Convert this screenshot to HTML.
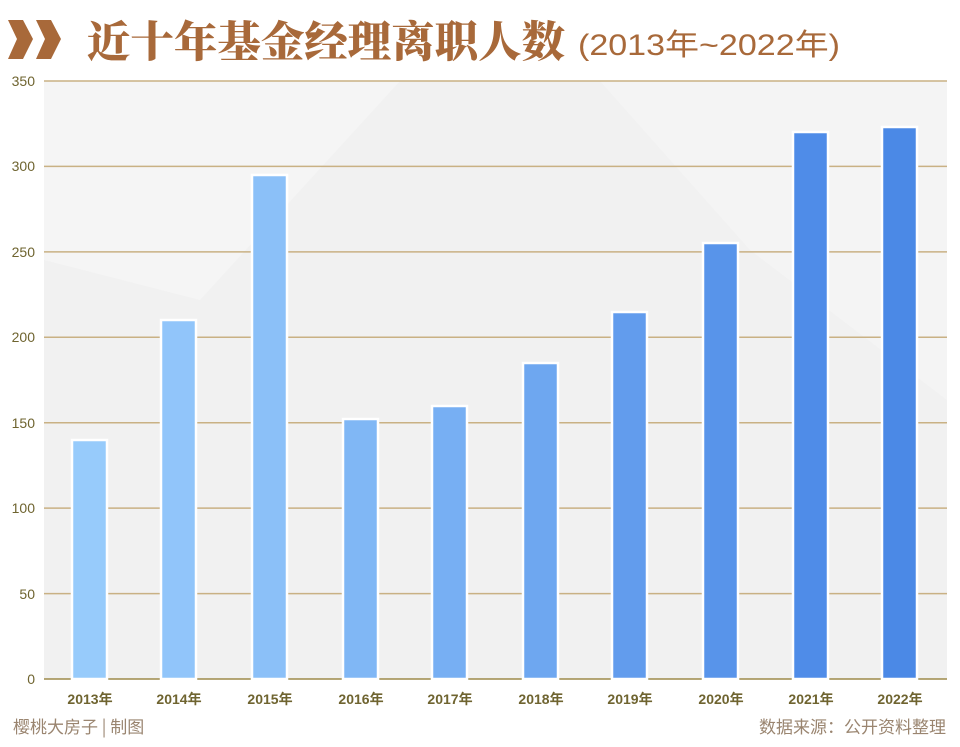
<!DOCTYPE html>
<html><head><meta charset="utf-8"><style>
body{margin:0;background:#fff}
svg{display:block}
</style></head><body>
<svg width="960" height="747" xmlns="http://www.w3.org/2000/svg">
<rect width="960" height="747" fill="#fff"/>
<rect x="44" y="81" width="903" height="598" fill="#f1f1f1"/>
<polygon points="44,81 400,81 200,300 44,260" fill="#f5f5f5"/>
<polygon points="600,81 947,81 947,400 750,250" fill="#f4f4f4"/>
<!-- title -->
<polygon points="8,20 23,20 33,39 23,59 8,59 17,39" fill="#a8693a"/>
<polygon points="36,20 51,20 61,39 51,59 36,59 45,39" fill="#a8693a"/>
<text x="87" y="57" font-family="'Noto Serif CJK SC',serif" font-weight="900" font-size="43" fill="#a8693a" textLength="478" lengthAdjust="spacingAndGlyphs">近十年基金经理离职人数</text>
<text x="578" y="55" font-family="'Liberation Sans','Noto Sans CJK SC',sans-serif" font-size="30" fill="#a8693a" textLength="262" lengthAdjust="spacingAndGlyphs">(2013年~2022年)</text>
<g stroke="#c9b184" stroke-width="1.5">
<line x1="44" y1="81" x2="947" y2="81"/><line x1="44" y1="166.4" x2="947" y2="166.4"/>
<line x1="44" y1="251.9" x2="947" y2="251.9"/><line x1="44" y1="337.3" x2="947" y2="337.3"/>
<line x1="44" y1="422.7" x2="947" y2="422.7"/><line x1="44" y1="508.1" x2="947" y2="508.1"/>
<line x1="44" y1="593.6" x2="947" y2="593.6"/>
</g>
<line x1="44" y1="679" x2="947" y2="679" stroke="#9e8a4a" stroke-width="1.5"/>
<g font-family="'Liberation Sans',sans-serif" font-size="14" fill="#6f6430" text-anchor="end">
<text x="35" y="86">350</text><text x="35" y="171">300</text><text x="35" y="257">250</text>
<text x="35" y="342">200</text><text x="35" y="428">150</text><text x="35" y="513">100</text>
<text x="35" y="599">50</text><text x="35" y="684">0</text>
</g>
<g stroke="#fff" stroke-width="2.5">
<rect x="72" y="440" width="35" height="239" fill="#97cbfb"/>
<rect x="161" y="320" width="35" height="359" fill="#91c5fa"/>
<rect x="252" y="175" width="35" height="504" fill="#8bc0f8"/>
<rect x="343" y="419" width="35" height="260" fill="#80b7f5"/>
<rect x="432" y="406" width="35" height="273" fill="#77aff3"/>
<rect x="523" y="363" width="35" height="316" fill="#6ea7f0"/>
<rect x="612" y="312" width="35" height="367" fill="#629ced"/>
<rect x="703" y="243" width="35" height="436" fill="#5894ea"/>
<rect x="793" y="132" width="35" height="547" fill="#4f8ce8"/>
<rect x="882" y="127" width="35" height="552" fill="#4b89e6"/>
</g>
<g font-family="'Liberation Sans','Noto Sans CJK SC',sans-serif" font-size="14" font-weight="bold" fill="#6f6430" text-anchor="middle">
<text x="90" y="704">2013年</text><text x="179" y="704">2014年</text><text x="270" y="704">2015年</text>
<text x="361" y="704">2016年</text><text x="450" y="704">2017年</text><text x="541" y="704">2018年</text>
<text x="630" y="704">2019年</text><text x="721" y="704">2020年</text><text x="811" y="704">2021年</text>
<text x="900" y="704">2022年</text>
</g>
<text x="13" y="733" font-family="'Noto Sans CJK SC',sans-serif" font-size="17" fill="#9a8570">樱桃大房子 | 制图</text>
<text x="946" y="733" text-anchor="end" font-family="'Noto Sans CJK SC',sans-serif" font-size="17" fill="#9a8570">数据来源：公开资料整理</text>
</svg>
</body></html>
